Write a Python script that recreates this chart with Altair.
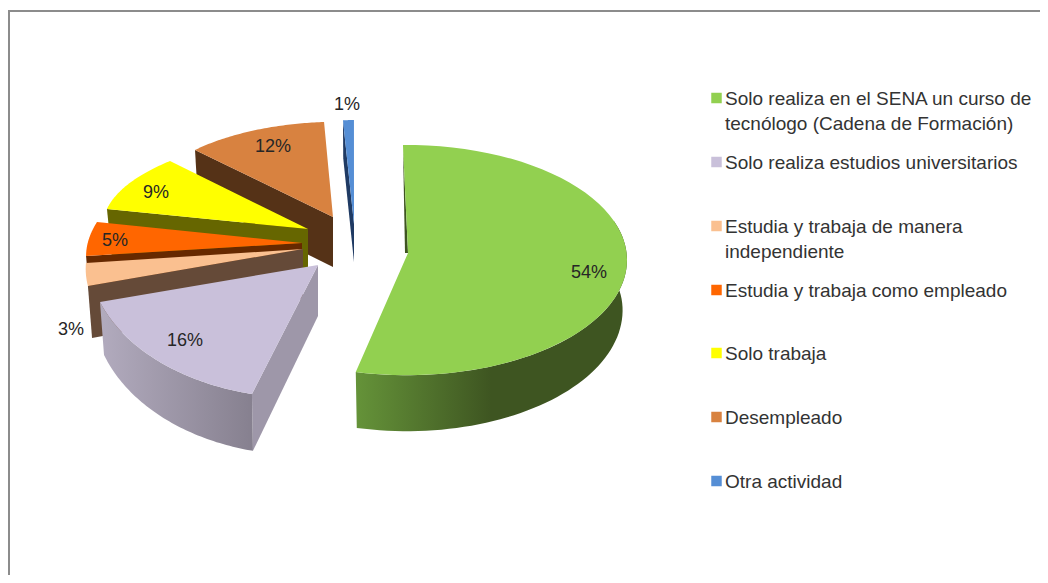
import math
import altair as alt

# ---- chart values -------------------------------------------------------
categories = [
    "Solo realiza en el SENA un curso de|tecnólogo (Cadena de Formación)",
    "Solo realiza estudios universitarios",
    "Estudia y trabaja de manera|independiente",
    "Estudia y trabaja como empleado",
    "Solo trabaja",
    "Desempleado",
    "Otra actividad",
]
shares = [54, 16, 3, 5, 9, 12, 1]

# ---- styles -------------------------------------------------------------
top_colors = ["#92D050", "#C9C0DA", "#FAC090", "#FF6600", "#FFFF00", "#D88240", "#558ED5"]
wall_colors = ["#3E5521", "#9E97A9", "#654A38", "#662900", "#666600", "#553217", "#1F3A63"]

# ---- layout of each exploded, tilted slice (page pixels) ----------------
center_x = [406.8, 301.3, 307.7, 306.4, 360.8, 339.7, 357.0]
center_y = [260.1, 255.7, 245.1, 240.5, 225.3, 207.8, 210.0]
semi_a = [220.2, 212.9, 218.0, 218.0, 257.6, 195.3, 175.0]
semi_b = [115.1, 142.2, 125.7, 108.7, 95.7, 86.1, 90.0]
shear = [0, 0, 41.9, 32.0, 0, 0, 0]
apex_x = [408, 318, 303, 302, 308, 333, 354]
apex_y = [253, 265, 249, 243, 229, 217, 224]
depth = [50, 51, 50, 50, 50, 50, 38]
label_x = [589, 185, 71, 115, 156, 273, 347]
label_y = [273, 341, 330, 241, 193, 147, 105]
rotation = -1.0
legend_rows = [98, 162, 226, 290, 353, 417, 481]
legend_swatch_x = 716.5
legend_text_x = 725
frame_top = [[8, 11], [1048, 11]]
frame_left = [[9, 10], [9, 583]]

PROJ = dict(type="identity", scale=1, translate=[-8, -8])
FONT = "Liberation Sans"

# cumulative angles from the shares
starts, ends, acc = [], [], rotation
for s in shares:
    starts.append(acc)
    acc += 3.6 * s
    ends.append(acc)


def top_pt(i, deg):
    t = math.radians(deg)
    return [center_x[i] + semi_a[i] * math.sin(t) + shear[i] * math.cos(t),
            center_y[i] - semi_b[i] * math.cos(t)]


def low_pt(i, deg):
    t = math.radians(deg)
    d = depth[i] + 6 * max(0.0, -math.cos(t))
    return [center_x[i] + 0.98 * semi_a[i] * math.sin(t) + shear[i] * math.cos(t),
            center_y[i] - semi_b[i] * math.cos(t) + d]


def sweep(a, b, n=60):
    return [a + (b - a) * k / n for k in range(n + 1)]


def feature(points, cat=""):
    ring = points + [points[0]]
    return {"type": "Feature", "properties": {"cat": cat},
            "geometry": {"type": "Polygon", "coordinates": [ring]}}


def shape(features, **mark):
    return alt.Chart(alt.Data(values=features)).mark_geoshape(
        strokeWidth=0, **mark).project(**PROJ)


color_scale = alt.Scale(domain=categories, range=top_colors)


def top_layer(i):
    pts = [[apex_x[i], apex_y[i]]] + [top_pt(i, d) for d in sweep(starts[i], ends[i])]
    return shape([feature(pts, categories[i])]).encode(
        fill=alt.Fill("properties.cat:N", scale=color_scale, legend=None))


def start_face(i):
    p = top_pt(i, starts[i])
    q = low_pt(i, starts[i])
    return [p, [apex_x[i], apex_y[i]], [apex_x[i], apex_y[i] + depth[i]], q]


def outer_wall(i, a, b):
    return [top_pt(i, d) for d in sweep(a, b)] + [low_pt(i, d) for d in sweep(b, a)]


def gradient(stops):
    return alt.Gradient(
        gradient="linear", x1=0, x2=1, y1=0, y2=0,
        stops=[alt.GradientStop(color=c, offset=o) for o, c in stops])


layers = []

# frame
frame = alt.Chart(alt.Data(values=[
    {"type": "Feature", "properties": {}, "geometry": {"type": "LineString", "coordinates": frame_top}},
    {"type": "Feature", "properties": {}, "geometry": {"type": "LineString", "coordinates": frame_left}},
])).mark_geoshape(filled=False, stroke="#8C8C8C", strokeWidth=2).project(**PROJ)
layers.append(frame)

# back-to-front: Otra actividad, Desempleado, Solo trabaja, empleado, independiente
for i in [6, 5, 4, 3]:
    layers.append(shape([feature(start_face(i))], fill=wall_colors[i]))
    layers.append(top_layer(i))

layers.append(shape([feature(start_face(2))], fill=wall_colors[2]))
layers.append(top_layer(2))

# universitarios
layers.append(shape([feature(start_face(1))], fill=wall_colors[1]))
layers.append(shape([feature(outer_wall(1, starts[1], ends[1]))],
                    fill=gradient([(0, "#B2ABBE"), (1, "#86808F")])))
layers.append(top_layer(1))

# SENA
sliver = [top_pt(0, starts[0]), [apex_x[0], apex_y[0]], [apex_x[0] - 3, apex_y[0]]]
layers.append(shape([feature(sliver)], fill=wall_colors[0]))
layers.append(shape([feature(outer_wall(0, 70, ends[0]))],
                    fill=gradient([(0, "#659339"), (0.5, "#3E5521"), (1, "#3E5521")])))
layers.append(top_layer(0))

# percentage labels
labels = [{"t": f"{s}%", "lon": x, "lat": y} for s, x, y in zip(shares, label_x, label_y)]
layers.append(alt.Chart(alt.Data(values=labels)).mark_text(
    font=FONT, fontSize=18, color="#262626", align="center", baseline="middle"
).encode(longitude="lon:Q", latitude="lat:Q", text="t:N").project(**PROJ))

# legend, in the chart's colours
rows = [{"cat": c, "y": y, "sx": legend_swatch_x, "tx": legend_text_x}
        for c, y in zip(categories, legend_rows)]
layers.append(alt.Chart(alt.Data(values=rows)).mark_square(size=110, opacity=1, strokeWidth=0).encode(
    longitude="sx:Q", latitude="y:Q",
    fill=alt.Fill("cat:N", scale=color_scale, legend=None)).project(**PROJ))
layers.append(alt.Chart(alt.Data(values=rows)).mark_text(
    font=FONT, fontSize=19, color="#333333", align="left", baseline="top",
    dy=-8, lineBreak="|", lineHeight=25
).encode(longitude="tx:Q", latitude="y:Q", text="cat:N").project(**PROJ))

chart = alt.layer(*layers).properties(
    width=1032, height=567, padding=0,
    autosize=alt.AutoSizeParams(type="none"),
    background="white",
).configure_view(stroke=None)

chart.save("out.html", embed_options={"renderer": "svg", "actions": False})
